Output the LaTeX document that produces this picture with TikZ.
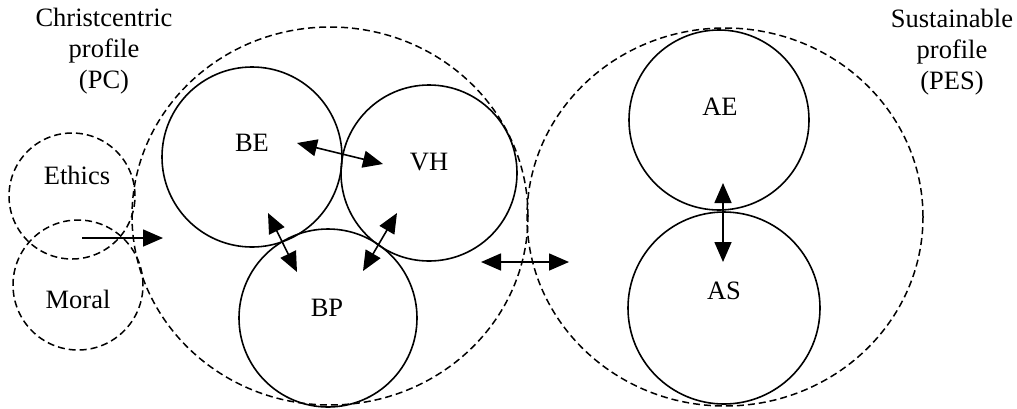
\documentclass[tikz,border=0pt]{standalone}
\usepackage{fontspec}
\setmainfont{Liberation Serif}
\usetikzlibrary{shapes.geometric,arrows.meta}
\begin{document}
\begin{tikzpicture}[x=1pt,y=-1pt,
  every node/.style={font=\fontsize{26.5}{31}\selectfont},
  ring/.style={draw, circle, line width=1.6pt, inner sep=0pt},
  dring/.style={draw, circle, line width=1.5pt, dash pattern=on 7pt off 4pt, inner sep=0pt},
  bigring/.style={draw, ellipse, line width=1.5pt, dash pattern=on 7pt off 4pt, minimum width=396pt, minimum height=378pt, inner sep=0pt},
  lbl/.style={inner sep=0pt, align=center},
  arr/.style={line width=1.6pt, -{Triangle[length=20pt,width=17pt]}},
  darr/.style={line width=1.6pt, {Triangle[length=20pt,width=17pt]}-{Triangle[length=20pt,width=17pt]}}]
\useasboundingbox (0,0) rectangle (1017,408);

% big dashed profiles
\node[bigring] (PC) at (330,216) {};
\node[bigring] (PES) at (725,217) {};

% ethics / moral
\node[dring, minimum size=126pt] (ethics) at (72,196) {};
\node[dring, minimum size=130pt] (moral) at (78,285) {};
\node[lbl] (tethics) at (77,175) {Ethics};
\node[lbl] (tmoral) at (78,299) {Moral};

% inner circles of PC
\node[ring, minimum size=180pt] (BE) at (252,157) {};
\node[ring, minimum size=176pt] (VH) at (429,173) {};
\node[ring, minimum size=178pt] (BP) at (328,318) {};
\node[lbl] (tBE) at (252,143) {BE};
\node[lbl] (tVH) at (429,162) {VH};
\node[lbl] (tBP) at (327,308) {BP};

% inner circles of PES
\node[ring, minimum size=180pt] (AE) at (719,120) {};
\node[ring, minimum size=192pt] (AS) at (724,308) {};
\node[lbl] (tAE) at (720,107) {AE};
\node[lbl] (tAS) at (724,291) {AS};

% titles
\node[lbl] (tPC) at (104,51) {Christcentric\\profile\\ (PC)};
\node[lbl] (tPES) at (952,52) {Sustainable\\profile\\(PES)};

% arrow end points
\coordinate (a1) at (82,238);
\coordinate (a2) at (163,238);
\coordinate (b1) at (297,143);
\coordinate (b2) at (383,164);
\coordinate (c1) at (268,213);
\coordinate (c2) at (297,272);
\coordinate (d1) at (397,213);
\coordinate (d2) at (363,271);
\coordinate (e1) at (481,262);
\coordinate (e2) at (569,262);
\coordinate (f1) at (723,183);
\coordinate (f2) at (723,262);

\draw[arr] (a1) -- (a2);
\draw[darr] (b1) -- (b2);
\draw[darr] (c1) -- (c2);
\draw[darr] (d1) -- (d2);
\draw[darr] (e1) -- (e2);
\draw[darr] (f1) -- (f2);
\end{tikzpicture}
\end{document}
